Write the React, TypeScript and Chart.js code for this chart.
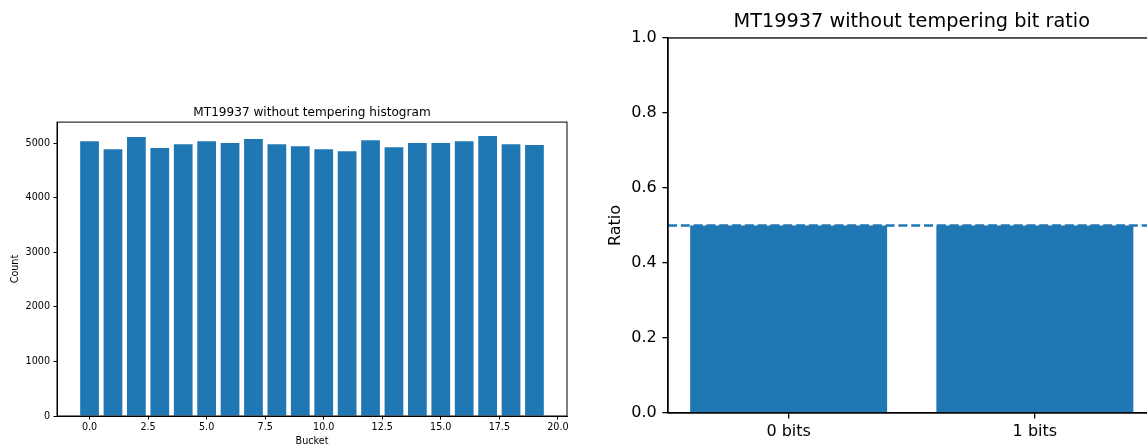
import React, { useEffect, useRef } from "react";
import { Chart, registerables } from "chart.js";

Chart.register(...registerables);

Chart.defaults.font.family = "'DejaVu Sans', sans-serif";
Chart.defaults.color = "#000";

// Histogram of bucket counts
const histogramTitle = "MT19937 without tempering histogram";
const buckets = [0, 1, 2, 3, 4, 5, 6, 7, 8, 9, 10, 11, 12, 13, 14, 15, 16, 17, 18, 19];
const bucketCounts = [
  5042, 4895, 5116, 4914, 4987, 5042, 5006, 5079, 4987, 4950,
  4895, 4858, 5060, 4932, 5006, 5006, 5042, 5134, 4987, 4969,
];
const bucketTicks = [0, 2.5, 5, 7.5, 10, 12.5, 15, 17.5, 20];
const countTicks = [0, 1000, 2000, 3000, 4000, 5000];

// Ratio of zero and one bits
const ratioTitle = "MT19937 without tempering bit ratio";
const bitLabels = ["0 bits", "1 bits"];
const bitRatios = [0.5, 0.5];
const ratioTicks = [0, 0.2, 0.4, 0.6, 0.8, 1.0];
const expectedRatio = 0.5;

const barColor = "#1f77b4";

// Closed box around the plotting area
const framePlugin = {
  id: "frame",
  afterDatasetsDraw(chart: any, _args: any, opts: any) {
    const { ctx, chartArea: a } = chart;
    ctx.save();
    ctx.strokeStyle = "#000";
    ctx.lineWidth = opts.width ?? 1;
    ctx.strokeRect(a.left, a.top, a.right - a.left, a.bottom - a.top);
    ctx.restore();
  },
};

// Horizontal dashed reference line across the plotting area
const referenceLinePlugin = {
  id: "referenceLine",
  afterDatasetsDraw(chart: any, _args: any, opts: any) {
    if (opts.value == null) return;
    const { ctx, chartArea: a } = chart;
    const y = chart.scales.y.getPixelForValue(opts.value);
    ctx.save();
    ctx.strokeStyle = opts.color;
    ctx.lineWidth = opts.width;
    ctx.setLineDash(opts.dash);
    ctx.beginPath();
    ctx.moveTo(a.left, y);
    ctx.lineTo(a.right, y);
    ctx.stroke();
    ctx.restore();
  },
};

function HistogramChart() {
  const ref = useRef<HTMLCanvasElement>(null);
  useEffect(() => {
    if (!ref.current) return;
    const yMax = Math.max(...bucketCounts) * 1.05;
    const tickFont = { size: 9.6 };
    const chart = new Chart(ref.current, {
      type: "bar",
      data: {
        datasets: [
          {
            data: buckets.map((b, i) => ({ x: b, y: bucketCounts[i] })),
            backgroundColor: barColor,
            barPercentage: 0.8,
            categoryPercentage: 1.0,
          },
        ],
      },
      options: {
        responsive: false,
        animation: false,
        layout: { padding: { left: 0, right: 13, top: 0, bottom: 0 } },
        plugins: {
          legend: { display: false },
          tooltip: { enabled: false },
          title: {
            display: true,
            fullSize: false,
            text: histogramTitle,
            color: "#000",
            font: { size: 12.1, weight: "normal" },
            padding: { top: 106, bottom: 1.6 },
          },
          frame: { width: 1 },
        } as any,
        scales: {
          x: {
            type: "linear",
            min: -1.39,
            max: 20.39,
            offset: false,
            afterBuildTicks: (s: any) => {
              s.ticks = bucketTicks.map((v) => ({ value: v }));
            },
            afterFit: (s: any) => {
              s.height = 31;
            },
            ticks: {
              font: tickFont,
              padding: 2.4,
              maxRotation: 0,
              autoSkip: false,
              callback: (v: any) => Number(v).toFixed(1),
            },
            grid: { drawOnChartArea: false, offset: false, tickLength: 3.5, color: "#000" },
            border: { color: "#000", width: 1 },
            title: { display: true, text: "Bucket", font: tickFont, padding: { top: 0, bottom: 0 } },
          },
          y: {
            type: "linear",
            min: 0,
            max: yMax,
            afterBuildTicks: (s: any) => {
              s.ticks = countTicks.map((v) => ({ value: v }));
            },
            afterFit: (s: any) => {
              s.width = 57;
            },
            ticks: { font: tickFont, padding: 3.5, callback: (v: any) => String(v) },
            grid: { drawOnChartArea: false, tickLength: 3.5, color: "#000" },
            border: { color: "#000", width: 1 },
            title: { display: true, text: "Count", font: tickFont, padding: { top: 9.7, bottom: 0 } },
          },
        },
      },
      plugins: [framePlugin],
    } as any);
    return () => chart.destroy();
  }, []);
  return (
    <canvas
      ref={ref}
      width={580}
      height={447}
      style={{ position: "absolute", left: 0, top: 0, display: "block" }}
    />
  );
}

function BitRatioChart() {
  const ref = useRef<HTMLCanvasElement>(null);
  useEffect(() => {
    if (!ref.current) return;
    const tickFont = { size: 16 };
    const chart = new Chart(ref.current, {
      type: "bar",
      data: {
        datasets: [
          {
            data: bitLabels.map((_, i) => ({ x: i, y: bitRatios[i] })),
            backgroundColor: barColor,
            barPercentage: 0.8,
            categoryPercentage: 1.0,
          },
        ],
      },
      options: {
        responsive: false,
        animation: false,
        layout: { padding: { left: 0, right: 24.5, top: 0, bottom: 0 } },
        plugins: {
          legend: { display: false },
          tooltip: { enabled: false },
          title: {
            display: true,
            fullSize: false,
            text: ratioTitle,
            color: "#000",
            font: { size: 19.3, weight: "normal" },
            padding: { top: 10.1, bottom: 4.7 },
          },
          referenceLine: { value: expectedRatio, color: barColor, width: 2.4, dash: [9, 3.8] },
          frame: { width: 1.3 },
        } as any,
        scales: {
          x: {
            type: "linear",
            min: -0.49,
            max: 1.49,
            offset: false,
            afterBuildTicks: (s: any) => {
              s.ticks = bitLabels.map((_, i) => ({ value: i }));
            },
            afterFit: (s: any) => {
              s.height = 34;
            },
            ticks: {
              font: tickFont,
              padding: 3.5,
              maxRotation: 0,
              autoSkip: false,
              callback: (v: any) => bitLabels[Number(v)] ?? "",
            },
            grid: { drawOnChartArea: false, offset: false, tickLength: 5.6, color: "#000", lineWidth: 1.3 },
            border: { color: "#000", width: 1.3 },
          },
          y: {
            type: "linear",
            min: 0,
            max: 1,
            afterBuildTicks: (s: any) => {
              s.ticks = ratioTicks.map((v) => ({ value: v }));
            },
            afterFit: (s: any) => {
              s.width = 78;
            },
            ticks: { font: tickFont, padding: 5.6, callback: (v: any) => Number(v).toFixed(1) },
            grid: { drawOnChartArea: false, tickLength: 5.6, color: "#000", lineWidth: 1.3 },
            border: { color: "#000", width: 1.3 },
            title: { display: true, text: "Ratio", font: tickFont, padding: { top: 16.4, bottom: 0 } },
          },
        },
      },
      plugins: [referenceLinePlugin, framePlugin],
    } as any);
    return () => chart.destroy();
  }, []);
  return (
    <canvas
      ref={ref}
      width={590}
      height={447}
      style={{ position: "absolute", left: 590, top: 0, display: "block" }}
    />
  );
}

export default function App() {
  return (
    <div
      style={{
        position: "absolute",
        left: 0,
        top: 0,
        width: 1147,
        height: 447,
        overflow: "hidden",
        background: "#fff",
      }}
    >
      <HistogramChart />
      <BitRatioChart />
    </div>
  );
}
